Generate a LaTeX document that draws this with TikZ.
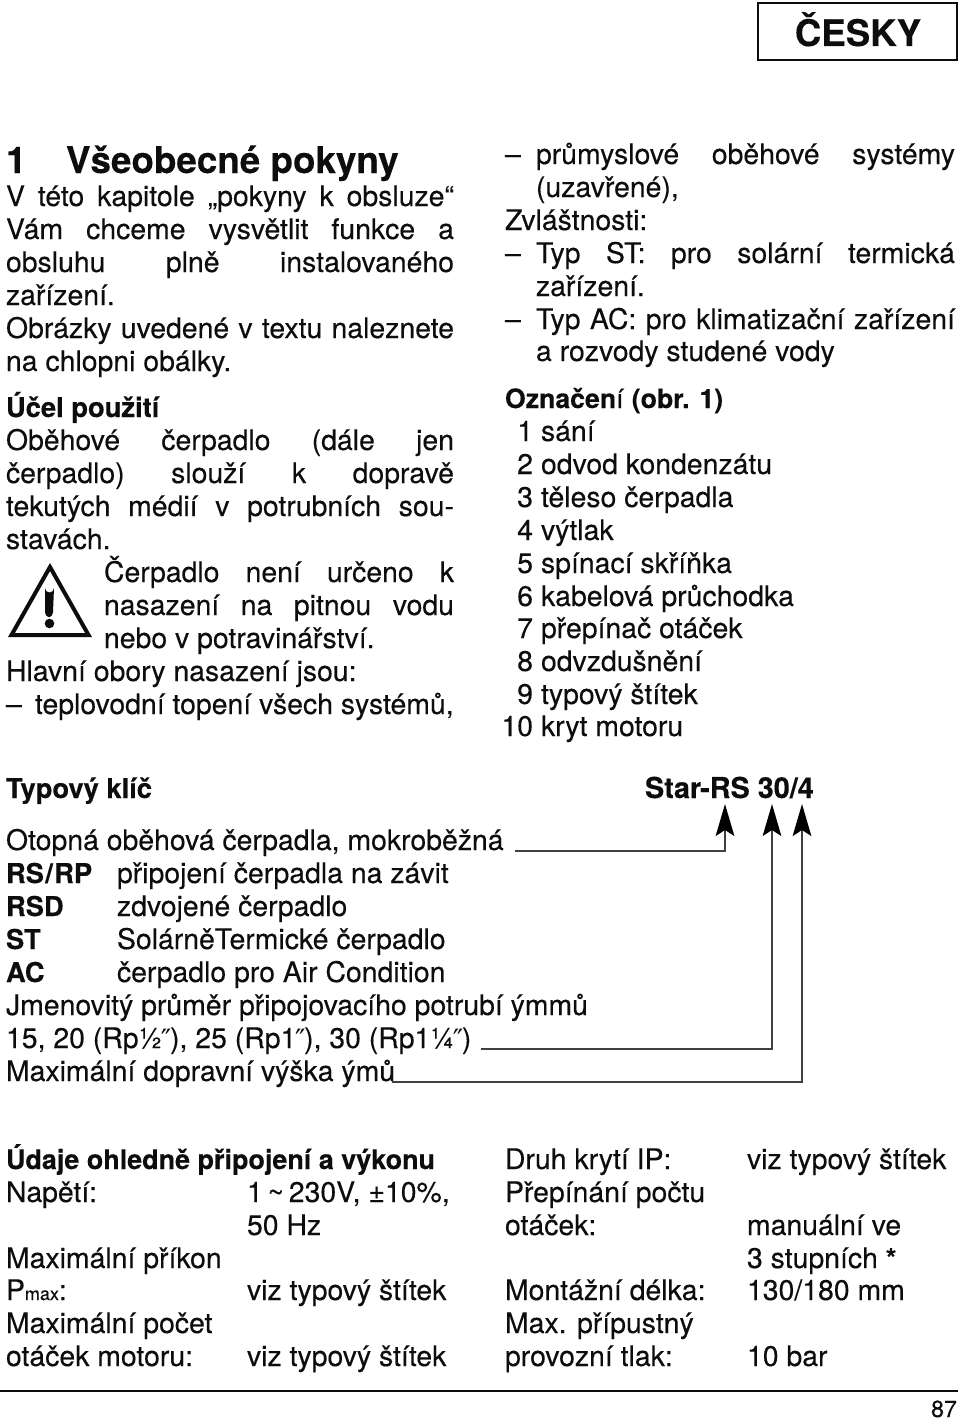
\documentclass[tikz,border=0pt]{standalone}
\usepackage{fontspec}
\setmainfont{TeX Gyre Heros}[UprightFeatures={FakeBold=0.25},BoldFeatures={FakeBold=0.25}]
\newfontfamily\primefont{DejaVu Sans}
\usetikzlibrary{arrows.meta}
\definecolor{ink}{gray}{0.05}
\definecolor{wire}{gray}{0.25}
\newcounter{tn}
\newcommand{\fs}{\fontsize{21.3}{24}\selectfont}
\tikzset{
  txt/.style={anchor=base west,inner sep=0pt,outer sep=0pt,text=ink,font=\fs},
  rtxt/.style={anchor=base east,inner sep=0pt,outer sep=0pt,text=ink,font=\fs},
  wireline/.style={draw=wire,line width=1.3pt,-{Stealth[length=24pt,width=14pt,inset=4.5pt,fill=black,color=black]}},
  rulel/.style={draw=ink,line width=1.3pt}
}
\newcommand{\T}[3]{\stepcounter{tn}\node[txt] (t\arabic{tn}) at (#1,#2) {#3};}
\newcommand{\R}[3]{\stepcounter{tn}\node[rtxt] (t\arabic{tn}) at (#1,#2) {#3};}
% justified line: x-start, x-end, y, text
\newcommand{\J}[4]{\pgfmathsetlengthmacro{\jw}{(#2-#1)*0.75pt}\stepcounter{tn}\node[txt] (t\arabic{tn}) at (#1,#3) {\makebox[\jw][s]{#4}};}
\newcommand{\B}[1]{{\fontsize{20.5}{24}\selectfont\bfseries #1}}
\newcommand{\dq}{{\primefont\fontsize{21}{21}\selectfont\kern-1pt\raisebox{-1pt}{\char"2033}\kern-1pt}}
\begin{document}
\begin{tikzpicture}[x=0.75pt,y=-0.75pt]
\useasboundingbox (0,0) rectangle (960,1420);
\fill[white] (0,0) rectangle (960,1420);

% tab
\node[draw=ink,line width=1.5pt,minimum width=149pt,minimum height=43pt,inner sep=0pt,outer sep=0pt,anchor=north west] (tab) at (758,3) {};
\node[anchor=base,inner sep=0pt,text=ink,font=\fontsize{27.5}{30}\selectfont\bfseries] (tabtxt) at (858,46) {ČESKY};

% heading
\node[txt,font=\fontsize{27.6}{30}\selectfont\bfseries] (h1n) at (6,173) {1};
\node[txt,font=\fontsize{27.6}{30}\selectfont\bfseries] (h1) at (66,173) {Všeobecné pokyny};

% left column
\J{6}{454}{206}{V této kapitole „pokyny k obsluze“}
\J{6}{454}{239}{Vám chceme vysvětlit funkce a}
\J{6}{454}{272}{obsluhu plně instalovaného}
\T{6}{305}{zařízení.}
\J{6}{454}{338}{Obrázky uvedené v textu naleznete}
\T{6}{371}{na chlopni obálky.}
\T{6}{417}{\B{Účel použití}}
\J{6}{454}{450}{Oběhové čerpadlo (dále jen}
\J{6}{454}{483}{čerpadlo) slouží k dopravě}
\J{6}{454}{516}{tekutých médií v potrubních sou-}
\T{6}{549}{stavách.}
\J{104}{454}{582}{Čerpadlo není určeno k}
\J{104}{454}{615}{nasazení na pitnou vodu}
\T{104}{648}{nebo v potravinářství.}
\T{6}{681}{Hlavní obory nasazení jsou:}
\T{6}{714}{–}
\T{35}{714}{teplovodní topení všech systémů,}

% warning sign
\coordinate (wa) at (50,567);
\coordinate (wl) at (11.5,635);
\coordinate (wr) at (88.5,635);
\draw[ink,line width=3pt,line join=miter] (wa) -- (wl) -- (wr) -- cycle;
\fill[ink] (45,588) arc[start angle=180,end angle=0,radius=4.5] -- (53,612) .. controls (52,619) and (46,619) .. (45,612) -- cycle;
\fill[ink] (49.5,623.5) circle[radius=4.8];

% right column
\T{505}{164}{–}
\J{536}{955}{164}{průmyslové oběhové systémy}
\T{536}{197}{(uzavřené),}
\T{505}{230}{Zvláštnosti:}
\T{505}{263}{–}
\J{536}{955}{263}{Typ ST: pro solární termická}
\T{536}{296}{zařízení.}
\T{505}{329}{–}
\J{536}{955}{329}{Typ AC: pro klimatizační zařízení}
\T{536}{361}{a rozvody studené vody}
\node[txt,font=\fontsize{20}{24}\selectfont] (desig) at (505,408) {\textbf{Označen}í \textbf{(obr. 1)}};
\R{533}{441}{1}\T{541}{441}{sání}
\R{533}{474}{2}\T{541}{474}{odvod kondenzátu}
\R{533}{507}{3}\T{541}{507}{těleso čerpadla}
\R{533}{540}{4}\T{541}{540}{výtlak}
\R{533}{573}{5}\T{541}{573}{spínací skříňka}
\R{533}{606}{6}\T{541}{606}{kabelová průchodka}
\R{533}{638}{7}\T{541}{638}{přepínač otáček}
\R{533}{671}{8}\T{541}{671}{odvzdušnění}
\R{533}{704}{9}\T{541}{704}{typový štítek}
\R{533}{736}{10}\T{541}{736}{kryt motoru}

% type key
\T{6}{798}{\B{Typový klíč}}
\node[txt,font=\fontsize{21.6}{24}\selectfont\bfseries] (star) at (645,798) {Star-RS 30/4};
\T{6}{850}{Otopná oběhová čerpadla, mokroběžná}
\T{6}{883}{\B{RS\kern1pt/\kern1pt RP}}\T{117}{883}{připojení čerpadla na závit}
\T{6}{916}{\B{RSD}}\T{117}{916}{zdvojené čerpadlo}
\T{6}{949}{\B{ST}}\T{117}{949}{SolárněTermické čerpadlo}
\T{6}{982}{\B{AC}}\T{117}{982}{čerpadlo pro Air Condition}
\T{6}{1015}{Jmenovitý průměr připojovacího potrubí ýmmů}
\T{6}{1048}{15, 20 (Rp½\dq), 25 (Rp1\dq), 30 (Rp1¼\dq)}
\T{6}{1081}{Maximální dopravní výška ýmů}

\coordinate (a1s) at (515,851);
\coordinate (a1e) at (725,804);
\coordinate (a2s) at (481,1049);
\coordinate (a2e) at (772,804);
\coordinate (a3s) at (392,1082);
\coordinate (a3e) at (802,804);
\draw[wireline] (a1s) -| (a1e);
\draw[wireline] (a2s) -| (a2e);
\draw[wireline] (a3s) -| (a3e);

% data table
\node[txt,font=\fontsize{20.2}{24}\selectfont\bfseries] (dat) at (6,1169) {Údaje ohledně připojení a výkonu};
\T{6}{1202}{Napětí:}\T{247}{1202}{1\,\char"7E\,230V, ±10\%,}
\T{247}{1235}{50 Hz}
\T{6}{1268}{Maximální příkon}
\T{6}{1300}{P{\fontsize{13.5}{14}\selectfont max}:}\T{247}{1300}{viz typový štítek}
\T{6}{1333}{Maximální počet}
\T{6}{1366}{otáček motoru:}\T{247}{1366}{viz typový štítek}

\T{505}{1169}{Druh krytí IP:}\T{747}{1169}{viz typový štítek}
\T{505}{1202}{Přepínání počtu}
\T{505}{1235}{otáček:}\T{747}{1235}{manuální ve}
\T{747}{1268}{3 stupních \B{*}}
\T{505}{1300}{Montážní délka:}\T{747}{1300}{130/180 mm}
\T{505}{1333}{Max. přípustný}
\T{505}{1366}{provozní tlak:}\T{747}{1366}{10 bar}

\coordinate (ruleL) at (0,1391);
\coordinate (ruleR) at (958,1391);
\draw[rulel] (ruleL) -- (ruleR);
\node[rtxt,font=\fontsize{17.5}{20}\selectfont] (page) at (957,1417) {87};
\end{tikzpicture}
\end{document}
